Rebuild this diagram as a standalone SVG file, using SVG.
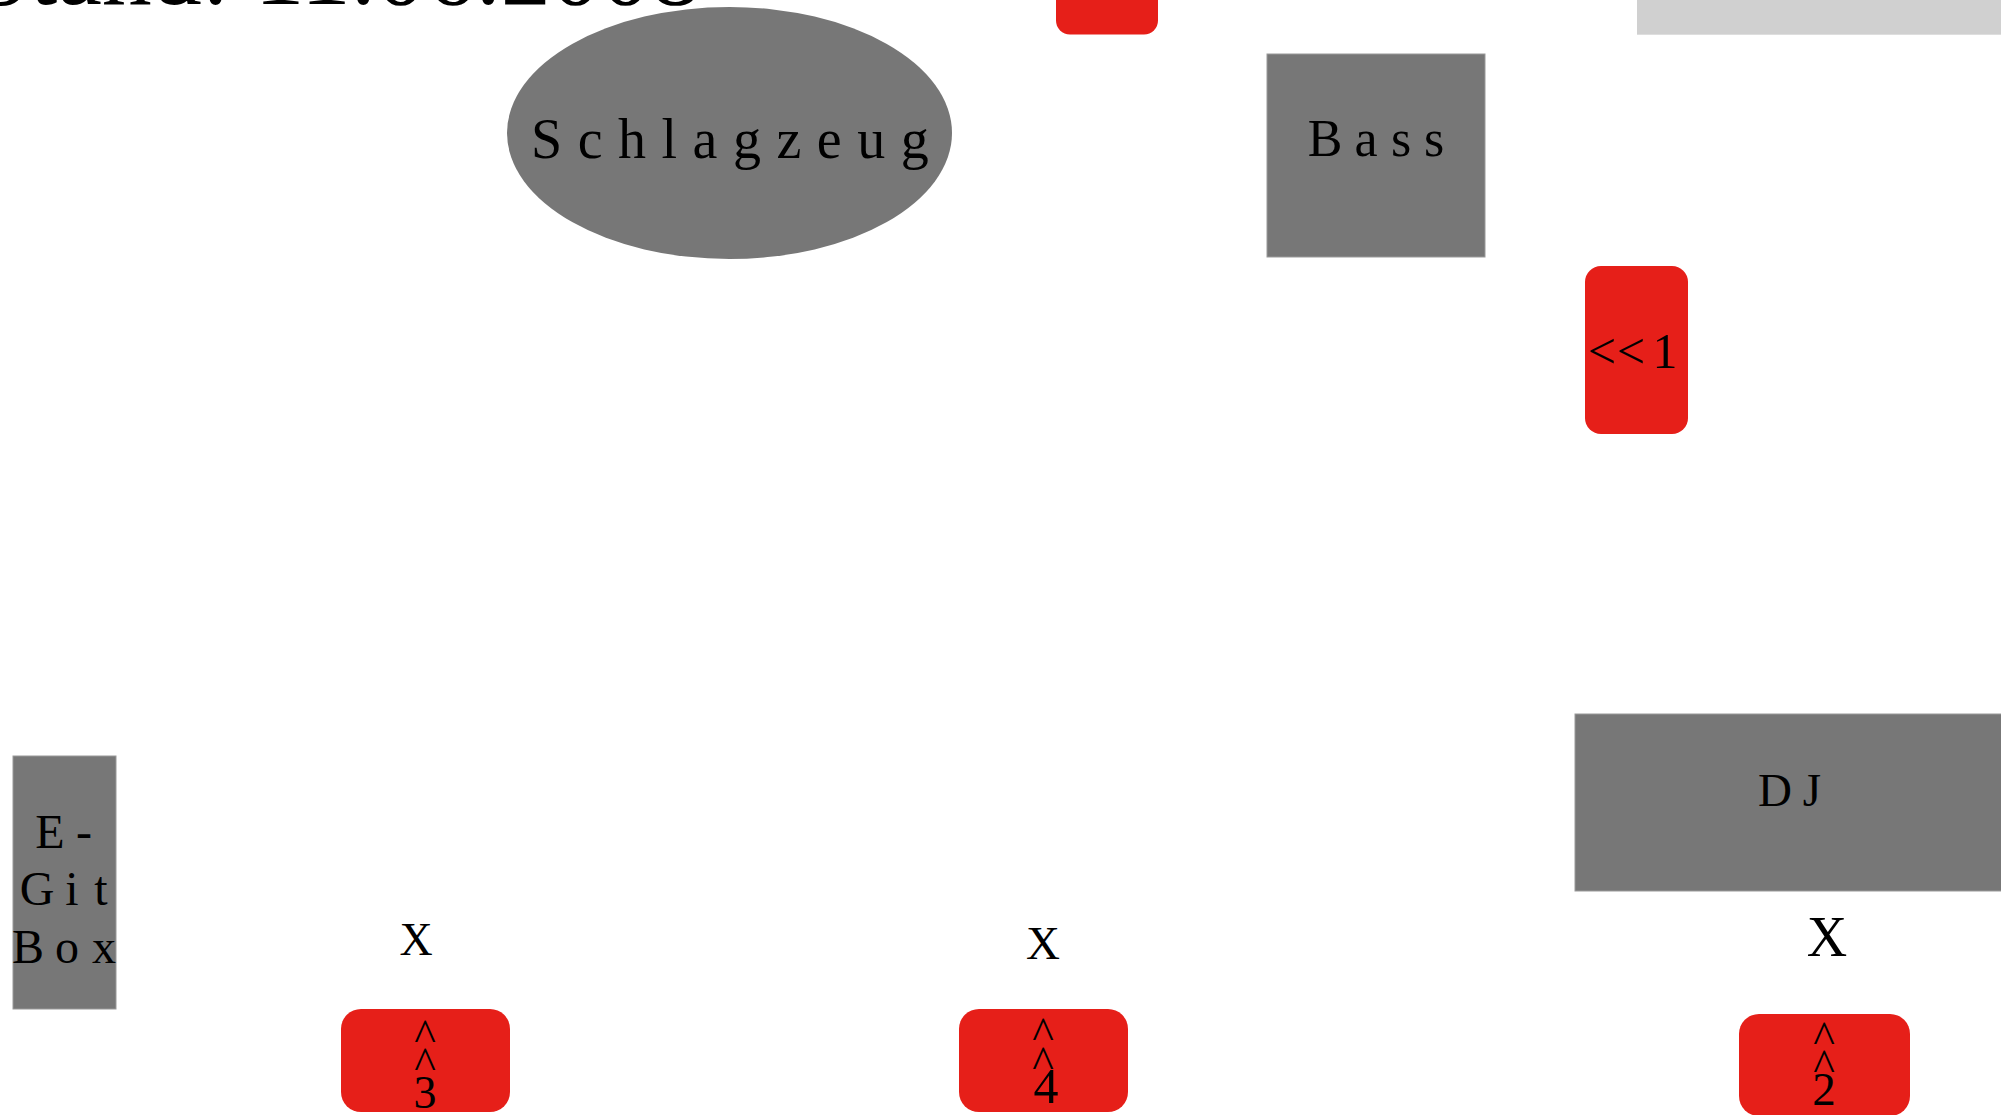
<svg xmlns="http://www.w3.org/2000/svg" width="2001" height="1115" viewBox="0 0 2001 1115">
<style>
.gray{fill:#777777;stroke:#9a9a9a;stroke-width:1}
.red{fill:#e61f19}
.lbl{font-family:"Liberation Serif","Times New Roman",serif;fill:#000;text-anchor:middle}
.title{font-family:"Liberation Serif","Times New Roman",serif;fill:#000;font-size:100px}
</style>
<rect width="2001" height="1115" fill="#ffffff"/>
<g id="title"><text class="title" x="-26" y="3.5">Stand: 11.06.2008</text></g>
<g id="top-red"><rect class="red" x="1056" y="-70" width="102" height="104.5" rx="14"/></g>
<g id="top-gray"><rect x="1637" y="0" width="364" height="34.7" fill="#d0d0d0"/></g>
<g id="schlagzeug">
<ellipse cx="729.5" cy="133" rx="222.5" ry="126" fill="#777777"/>
<text font-family="Liberation Serif, Times New Roman, serif" font-size="56" letter-spacing="15.5" x="531" y="158">Schlagzeug</text>
</g>
<g id="bass">
<rect class="gray" x="1267" y="54" width="218" height="203"/>
<text class="lbl" font-size="52" y="156" x="1325 1366 1401 1434">Bass</text>
</g>
<g id="node-1">
<rect class="red" x="1585" y="266" width="103" height="168" rx="16"/>
<text class="lbl" font-size="50" y="368" x="1602 1631 1665">&lt;&lt;1</text>
</g>
<g id="egit">
<rect class="gray" x="13" y="756" width="103" height="253"/>
<text class="lbl" font-size="48" y="848" x="50 84">E-</text>
<text class="lbl" font-size="48" y="905" x="37 72 101">Git</text>
<text class="lbl" font-size="48" y="963" x="28 67 104">Box</text>
</g>
<g id="dj">
<rect class="gray" x="1575" y="714" width="430" height="177"/>
<text class="lbl" font-size="47" y="806" x="1775 1812">DJ</text>
</g>
<g id="x3"><text class="lbl" font-size="46" x="416" y="955">X</text></g>
<g id="x4"><text class="lbl" font-size="47" x="1043" y="959">X</text></g>
<g id="x2"><text class="lbl" font-size="56" x="1827" y="956">X</text></g>
<g id="node-3">
<rect class="red" x="341" y="1009" width="169" height="103" rx="20"/>
<text class="lbl" font-size="46" x="425" y="1050.5">^</text>
<text class="lbl" font-size="46" x="425" y="1078.5">^</text>
<text class="lbl" font-size="46" x="425" y="1108">3</text>
</g>
<g id="node-4">
<rect class="red" x="959" y="1009" width="169" height="103" rx="20"/>
<text class="lbl" font-size="46" x="1043" y="1048.5">^</text>
<text class="lbl" font-size="46" x="1043" y="1077.5">^</text>
<text class="lbl" font-size="50" x="1046" y="1103">4</text>
</g>
<g id="node-2">
<rect class="red" x="1739" y="1014" width="171" height="102" rx="20"/>
<text class="lbl" font-size="46" x="1824" y="1052.5">^</text>
<text class="lbl" font-size="46" x="1824" y="1080.5">^</text>
<text class="lbl" font-size="47" x="1824" y="1105">2</text>
</g>
<g id="connectors"></g>
</svg>
